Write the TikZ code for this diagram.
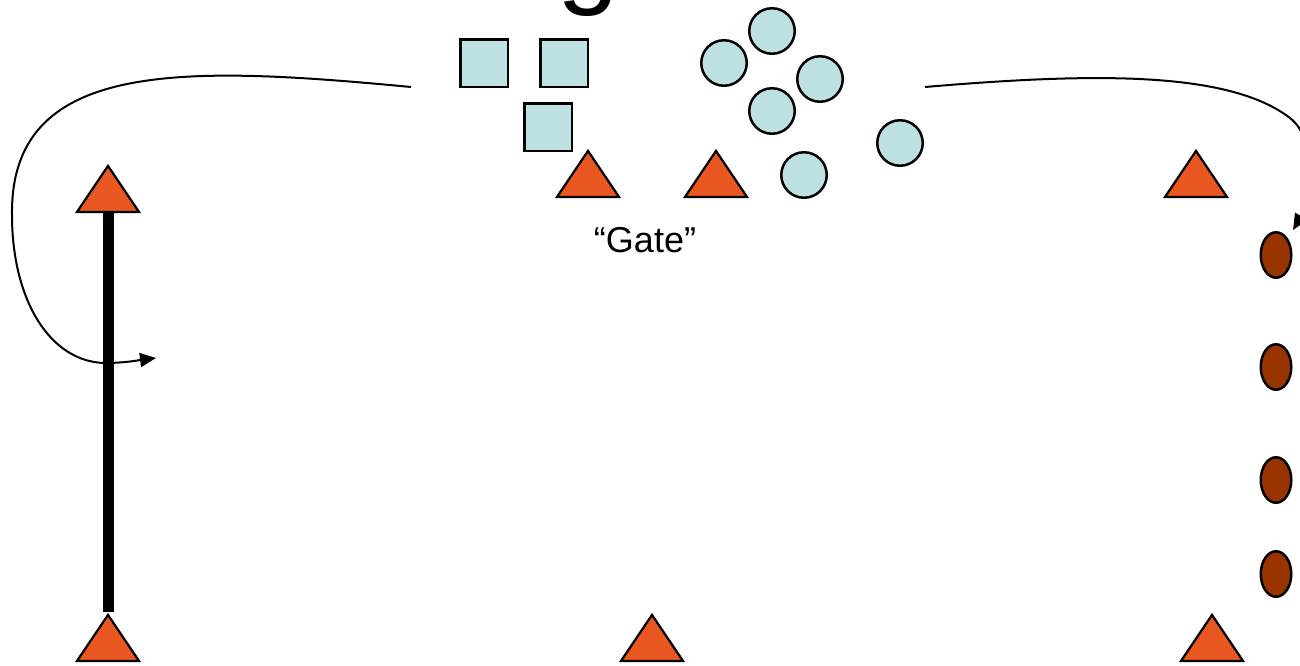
\documentclass[tikz,border=0pt]{standalone}
\usepackage{fontspec}
\setmainfont{Liberation Sans}
\usetikzlibrary{arrows.meta,shapes.geometric}
\definecolor{conefill}{RGB}{232,87,34}
\definecolor{ballfill}{RGB}{189,224,227}
\definecolor{waitfill}{RGB}{153,51,0}

\begin{document}
\begin{tikzpicture}[
  x=1pt, y=-1pt,
  cone/.style={draw, line width=2.2pt, fill=conefill, isosceles triangle, isosceles triangle stretches, shape border rotate=90, minimum width=62pt, minimum height=46pt, inner sep=0pt, anchor=south},
  sqplayer/.style={draw, line width=2.5pt, fill=ballfill, rectangle, minimum size=47.5pt, inner sep=0pt},
  ciplayer/.style={draw, line width=2.5pt, fill=ballfill, circle, minimum size=45.5pt, inner sep=0pt},
  waitplayer/.style={draw, line width=2.5pt, fill=waitfill, ellipse, minimum width=30.5pt, minimum height=45.5pt, inner sep=0pt},
  pole/.style={line width=11pt},
  run/.style={line width=2pt, -{Triangle[length=16pt, width=14pt]}}
]
  \clip (0,0) rectangle (1300,665);

  \node[font=\fontsize{111}{120}\selectfont, inner sep=0pt, anchor=base] (title) at (588,-7) {g};

  \node[cone] (cone1) at (108,213) {};
  \node[cone] (cone2) at (588,198) {};
  \node[cone] (cone3) at (716,198) {};
  \node[cone] (cone4) at (1196,198) {};
  \node[cone] (cone5) at (108,662) {};
  \node[cone] (cone6) at (652,662) {};
  \node[cone] (cone7) at (1212,662) {};

  \node[sqplayer] (sq1) at (484,63) {};
  \node[sqplayer] (sq2) at (564,63) {};
  \node[sqplayer] (sq3) at (548,127) {};

  \node[ciplayer] (ci1) at (772,31) {};
  \node[ciplayer] (ci2) at (724,63) {};
  \node[ciplayer] (ci3) at (820,79) {};
  \node[ciplayer] (ci4) at (772,111) {};
  \node[ciplayer] (ci5) at (804,175) {};
  \node[ciplayer] (ci6) at (900,143) {};

  \node[waitplayer] (wait1) at (1276,255) {};
  \node[waitplayer] (wait2) at (1276,367) {};
  \node[waitplayer] (wait3) at (1276,480) {};
  \node[waitplayer] (wait4) at (1276,574) {};

  \node[font=\fontsize{36}{43}\selectfont, inner sep=0pt, anchor=base] (gate) at (645,252) {“Gate”};

  \coordinate (leftstart) at (411,87);
  \coordinate (lefttip) at (156,358);
  \coordinate (rightstart) at (925,87);
  \coordinate (righttip) at (1293,230);

  \draw[pole] (cone1.south) -- (cone5.north);

  \draw[run] (leftstart) .. controls (180,65) and (10,60) .. (12,215)
    .. controls (12,300) and (50,362) .. (105,363)
    .. controls (125,363) and (140,360) .. (lefttip);
  \draw[run] (rightstart) .. controls (1100,72) and (1230,72) .. (1290,118)
    .. controls (1316,138) and (1314,195) .. (righttip);
\end{tikzpicture}
\end{document}
